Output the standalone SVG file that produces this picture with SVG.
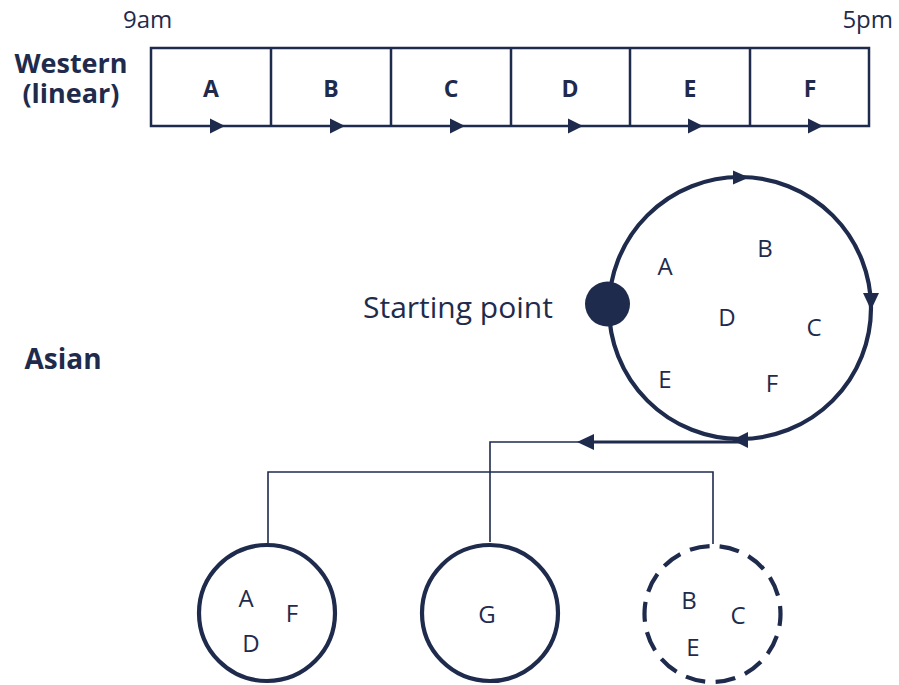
<svg xmlns="http://www.w3.org/2000/svg" width="899" height="685" viewBox="0 0 899 685">
<style>
text{font-family:"Open Sans","Noto Sans","Liberation Sans",sans-serif;fill:#1f2b4d}
.b{font-weight:bold}
.cell{font-size:23px;font-weight:bold;text-anchor:middle}
.let{font-size:24px;text-anchor:middle}
.ln{fill:none;stroke:#1f2b4d}
.ah{fill:#1f2b4d;stroke:none}
</style>
<rect width="899" height="685" fill="#ffffff"/>
<g id="labels">
<text x="123" y="28" font-size="24">9am</text>
<text x="893" y="28" font-size="24" text-anchor="end">5pm</text>
<text font-size="27" class="b" text-anchor="middle"><tspan x="71" y="73">Western</tspan><tspan x="71" y="103">(linear)</tspan></text>
<text x="63" y="369" font-size="28" class="b" text-anchor="middle">Asian</text>
<text x="363" y="318" font-size="30">Starting point</text>
</g>
<g id="timeline">
<rect x="151" y="48" width="718" height="78" class="ln" stroke-width="2.5"/>
<path d="M271 48V126M391 48V126M511 48V126M630 48V126M750 48V126" class="ln" stroke-width="2.5"/>
<polygon class="ah" points="210,118.5 225,126 210,133.5"/>
<polygon class="ah" points="330,118.5 345,126 330,133.5"/>
<polygon class="ah" points="450,118.5 465,126 450,133.5"/>
<polygon class="ah" points="568,118.5 583,126 568,133.5"/>
<polygon class="ah" points="688,118.5 703,126 688,133.5"/>
<polygon class="ah" points="808,118.5 823,126 808,133.5"/>
<text x="211" y="97" class="cell">A</text>
<text x="331" y="97" class="cell">B</text>
<text x="451" y="97" class="cell">C</text>
<text x="570" y="97" class="cell">D</text>
<text x="690" y="97" class="cell">E</text>
<text x="810" y="97" class="cell">F</text>
</g>
<g id="cycle">
<circle cx="740" cy="308" r="131" class="ln" stroke-width="4.2"/>
<polygon class="ah" points="749,177.5 733,170.5 733,184.5"/>
<polygon class="ah" points="863,293 879,293 871,310"/>
<polygon class="ah" points="732,440 748,432 748,448"/>
<circle id="start" cx="607.5" cy="304" r="22.5" fill="#1f2b4d"/>
<text x="665" y="275" class="let">A</text>
<text x="765" y="257" class="let">B</text>
<text x="727" y="326" class="let">D</text>
<text x="814" y="336" class="let">C</text>
<text x="665" y="388" class="let">E</text>
<text x="772" y="392" class="let">F</text>
</g>
<g id="connectors">
<path d="M745 442H592" class="ln" stroke-width="3"/>
<polygon class="ah" points="577,442 594,434 594,450"/>
<path d="M490 542V442H580" class="ln" stroke-width="1.6"/>
<path d="M268 543V472H713V544" class="ln" stroke-width="1.6"/>
</g>
<g id="group1">
<circle cx="267" cy="613" r="68" class="ln" stroke-width="4.2"/>
<text x="246" y="607" class="let">A</text>
<text x="292" y="622" class="let">F</text>
<text x="251" y="652" class="let">D</text>
</g>
<g id="group2">
<circle cx="490" cy="613" r="68" class="ln" stroke-width="4.2"/>
<text x="487" y="623" class="let">G</text>
</g>
<g id="group3">
<circle cx="712.5" cy="614" r="68" class="ln" stroke-width="4.2" stroke-dasharray="20 10.5" transform="rotate(-84 712.5 614)"/>
<text x="689" y="609" class="let">B</text>
<text x="738" y="624" class="let">C</text>
<text x="693" y="656" class="let">E</text>
</g>
</svg>
